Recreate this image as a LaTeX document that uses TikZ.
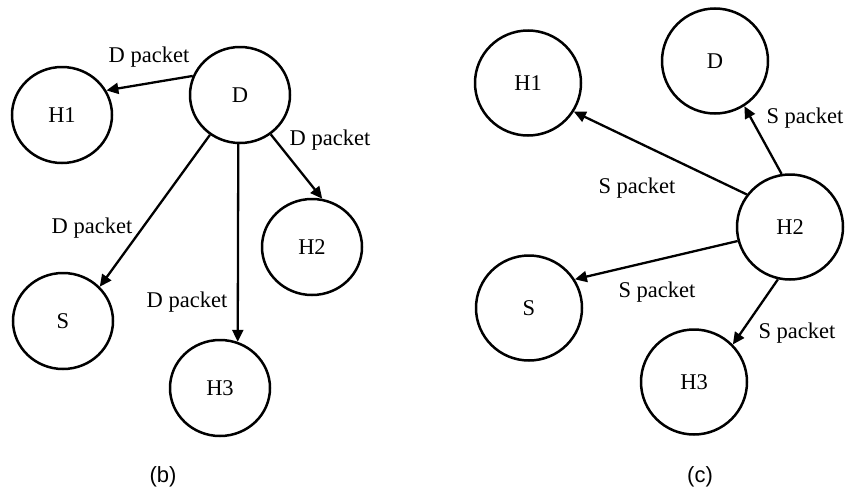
\documentclass[tikz,border=0pt]{standalone}
\usepackage{fontspec}
\setmainfont{Liberation Serif}
\newfontfamily\capfont{Liberation Sans}
\usetikzlibrary{shapes.geometric,arrows.meta}
\begin{document}
\begin{tikzpicture}[x=1pt,y=-1pt,
  hostb/.style={ellipse,draw,line width=2.5pt,minimum width=100pt,minimum height=96pt,inner sep=0pt,font=\fontsize{22.5}{26}\selectfont},
  hostc/.style={ellipse,draw,line width=2.5pt,minimum width=106pt,minimum height=105pt,inner sep=0pt,font=\fontsize{22.5}{26}\selectfont},
  pkt/.style={line width=2.3pt,-{Triangle[length=12pt,width=11pt]}},
  lbl/.style={inner sep=0pt,font=\fontsize{22.5}{26}\selectfont},
  sublabel/.style={inner sep=0pt,font=\capfont\fontsize{22}{26}\selectfont}]
\useasboundingbox (0,0) rectangle (846,490);
% (b)
\node[hostb] (bD) at (240,95) {D};
\node[hostb] (bH1) at (62,115) {H1};
\node[hostb] (bH2) at (312,247) {H2};
\node[hostb] (bS) at (63,321) {S};
\node[hostb] (bH3) at (220,388) {H3};
\draw[pkt] (bD.158) -- (bH1.29);
\draw[pkt] (bD.308) -- (bH2.78);
\draw[pkt] (bD.233) -- (bS.43);
\draw[pkt] (bD.268) -- (bH3.69);
\node[lbl] (lb1) at (149,57) {D packet};
\node[lbl] (lb2) at (330,140) {D packet};
\node[lbl] (lb3) at (92,228) {D packet};
\node[lbl] (lb4) at (187,302) {D packet};
\node[sublabel] (capb) at (163,477) {(b)};
% (c)
\node[hostc] (cH1) at (528,83) {H1};
\node[hostc] (cD) at (715,61) {D};
\node[hostc] (cH2) at (790,227) {H2};
\node[hostc] (cS) at (529,308) {S};
\node[hostc] (cH3) at (694,382) {H3};
\draw[pkt] (cH2.143) -- (cH1.328);
\draw[pkt] (cH2.99) -- (cD.303);
\draw[pkt] (cH2.195) -- (cS.32);
\draw[pkt] (cH2.257) -- (cH3.44);
\node[lbl] (lc1) at (637,188) {S packet};
\node[lbl] (lc2) at (805,118) {S packet};
\node[lbl] (lc3) at (657,292) {S packet};
\node[lbl] (lc4) at (797,333) {S packet};
\node[sublabel] (capc) at (700,477) {(c)};
\end{tikzpicture}
\end{document}
